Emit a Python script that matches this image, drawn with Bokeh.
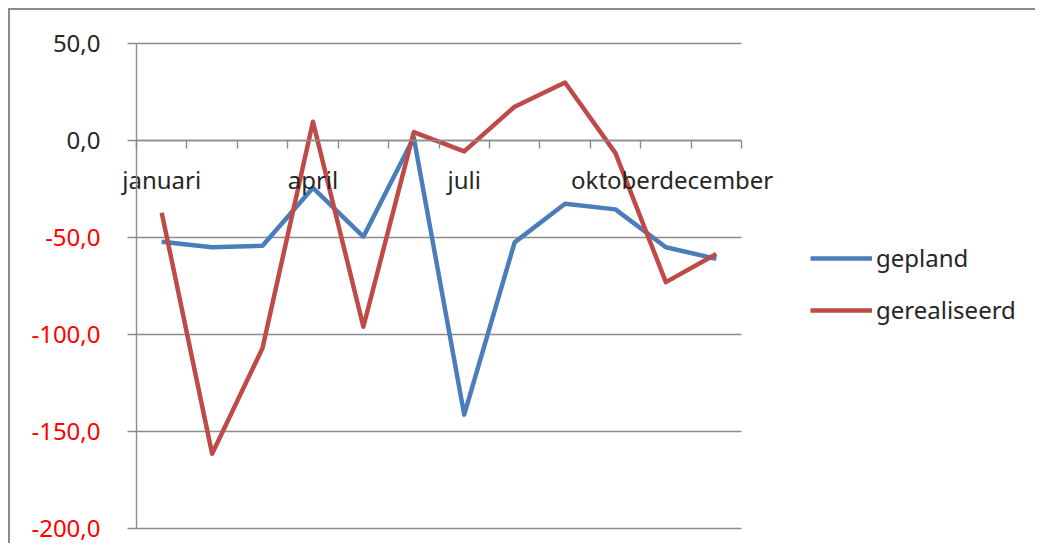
from bokeh.plotting import figure
from bokeh.models import (Range1d, LinearAxis, FixedTicker, Legend, LegendItem, CustomJSTickFormatter)
from bokeh.embed import file_html
from bokeh.resources import INLINE

# ---- data ----
months = ["januari", "februari", "maart", "april", "mei", "juni", "juli",
          "augustus", "september", "oktober", "november", "december"]
shown_months = ["januari", "april", "juli", "oktober", "december"]
gepland = [-52.2, -55.0, -54.3, -24.4, -49.6, 1.5, -141.3, -52.5, -32.6, -35.5, -55.0, -61.0]
gerealiseerd = [-37.2, -161.5, -107.0, 9.7, -96.0, 4.3, -5.6, 17.4, 29.9, -6.5, -73.0, -58.5]
y_ticks = [-200, -150, -100, -50, 0, 50]

FONT = "Noto Sans"
GRID = "#8c8c8c"
TEXT = "#262626"

# ---- geometry (pixels) ----
W, H = 1027, 535            # canvas = whole chart area (inside the chart border)
PL, PR = 126, 731           # plot-area left/right inside canvas
PT, PB = 33, 518            # plot-area top/bottom inside canvas
n = len(months)
ux = n / (PR - PL)
uy = (y_ticks[-1] - y_ticks[0]) / (PB - PT)
x_range = Range1d(-PL * ux, n + (W - PR) * ux)
y_range = Range1d(y_ticks[0] - (H - PB) * uy, y_ticks[-1] + PT * uy)

xpos = [i + 0.5 for i in range(n)]

p = figure(width=W, height=H, x_range=x_range, y_range=y_range,
           min_border=0, x_axis_type=None, y_axis_type=None,
           output_backend="svg", toolbar_location=None)
p.outline_line_color = None
p.background_fill_color = "white"
p.border_fill_color = "white"
p.xgrid.visible = False
p.ygrid.visible = False
p.margin = (8, 0, 0, 8)
p.styles = {"border-top": "2px solid #8c8c8c", "border-left": "2px solid #8c8c8c"}

# horizontal gridlines across the plot area only
p.segment(x0=[0] * len(y_ticks), x1=[n] * len(y_ticks), y0=y_ticks, y1=y_ticks,
          line_color=GRID, line_width=1.4)

# y axis: red negative labels
yax = LinearAxis(fixed_location=0, bounds=(y_ticks[0], y_ticks[-1]),
                 ticker=FixedTicker(ticks=y_ticks),
                 formatter=CustomJSTickFormatter(
                     code="return tick < 0 ? tick.toFixed(1).replace('.', ',') : ''"),
                 axis_line_color=GRID, axis_line_width=1.4,
                 major_tick_line_color=GRID, major_tick_line_width=1.4,
                 major_tick_out=9, major_tick_in=0, minor_tick_line_color=None,
                 major_label_standoff=27, major_label_text_font=FONT,
                 major_label_text_font_size="24px", major_label_text_color="#ff0000")
p.add_layout(yax, "left")
# y axis: dark non-negative labels
yax2 = LinearAxis(fixed_location=0, ticker=FixedTicker(ticks=[t for t in y_ticks if t >= 0]),
                  formatter=CustomJSTickFormatter(code="return tick.toFixed(1).replace('.', ',')"),
                  axis_line_color=None, major_tick_line_color=None, minor_tick_line_color=None,
                  major_tick_out=9, major_tick_in=0,
                  major_label_standoff=27, major_label_text_font=FONT,
                  major_label_text_font_size="24px", major_label_text_color=TEXT)
p.add_layout(yax2, "left")

# category axis crossing at 0: boundary ticks
bax = LinearAxis(fixed_location=0, bounds=(0, n),
                 ticker=FixedTicker(ticks=list(range(n + 1))),
                 formatter=CustomJSTickFormatter(code="return ''"),
                 axis_line_color=GRID, axis_line_width=1.4,
                 major_tick_line_color=GRID, major_tick_line_width=1.4,
                 major_tick_out=8, major_tick_in=0, minor_tick_line_color=None)
p.add_layout(bax, "below")

# category labels
cax = LinearAxis(fixed_location=0,
                 ticker=FixedTicker(ticks=[months.index(m) + 0.5 for m in shown_months]),
                 formatter=CustomJSTickFormatter(args=dict(months=months),
                                                 code="return months[Math.floor(tick)]"),
                 axis_line_color=None, major_tick_line_color=None, minor_tick_line_color=None,
                 major_tick_out=0, major_tick_in=0,
                 major_label_text_font=FONT, major_label_text_font_size="24px",
                 major_label_text_color=TEXT, major_label_standoff=22)
p.add_layout(cax, "below")

r1 = p.line(xpos, gepland, line_width=4.5, line_color="#4a7ebb", line_join="round")
r2 = p.line(xpos, gerealiseerd, line_width=4.5, line_color="#be4b48", line_join="round")

legend = Legend(items=[LegendItem(label="gepland", renderers=[r1]),
                       LegendItem(label="gerealiseerd", renderers=[r2])],
                location=(800, 219), glyph_width=62, glyph_height=28, label_standoff=4,
                spacing=19, padding=0, margin=0, border_line_color=None,
                background_fill_alpha=0, label_text_font=FONT, label_text_font_size="24px",
                label_text_color=TEXT, label_text_baseline="middle")
p.add_layout(legend, "center")

open("out.html", "w").write(file_html(p, INLINE))
